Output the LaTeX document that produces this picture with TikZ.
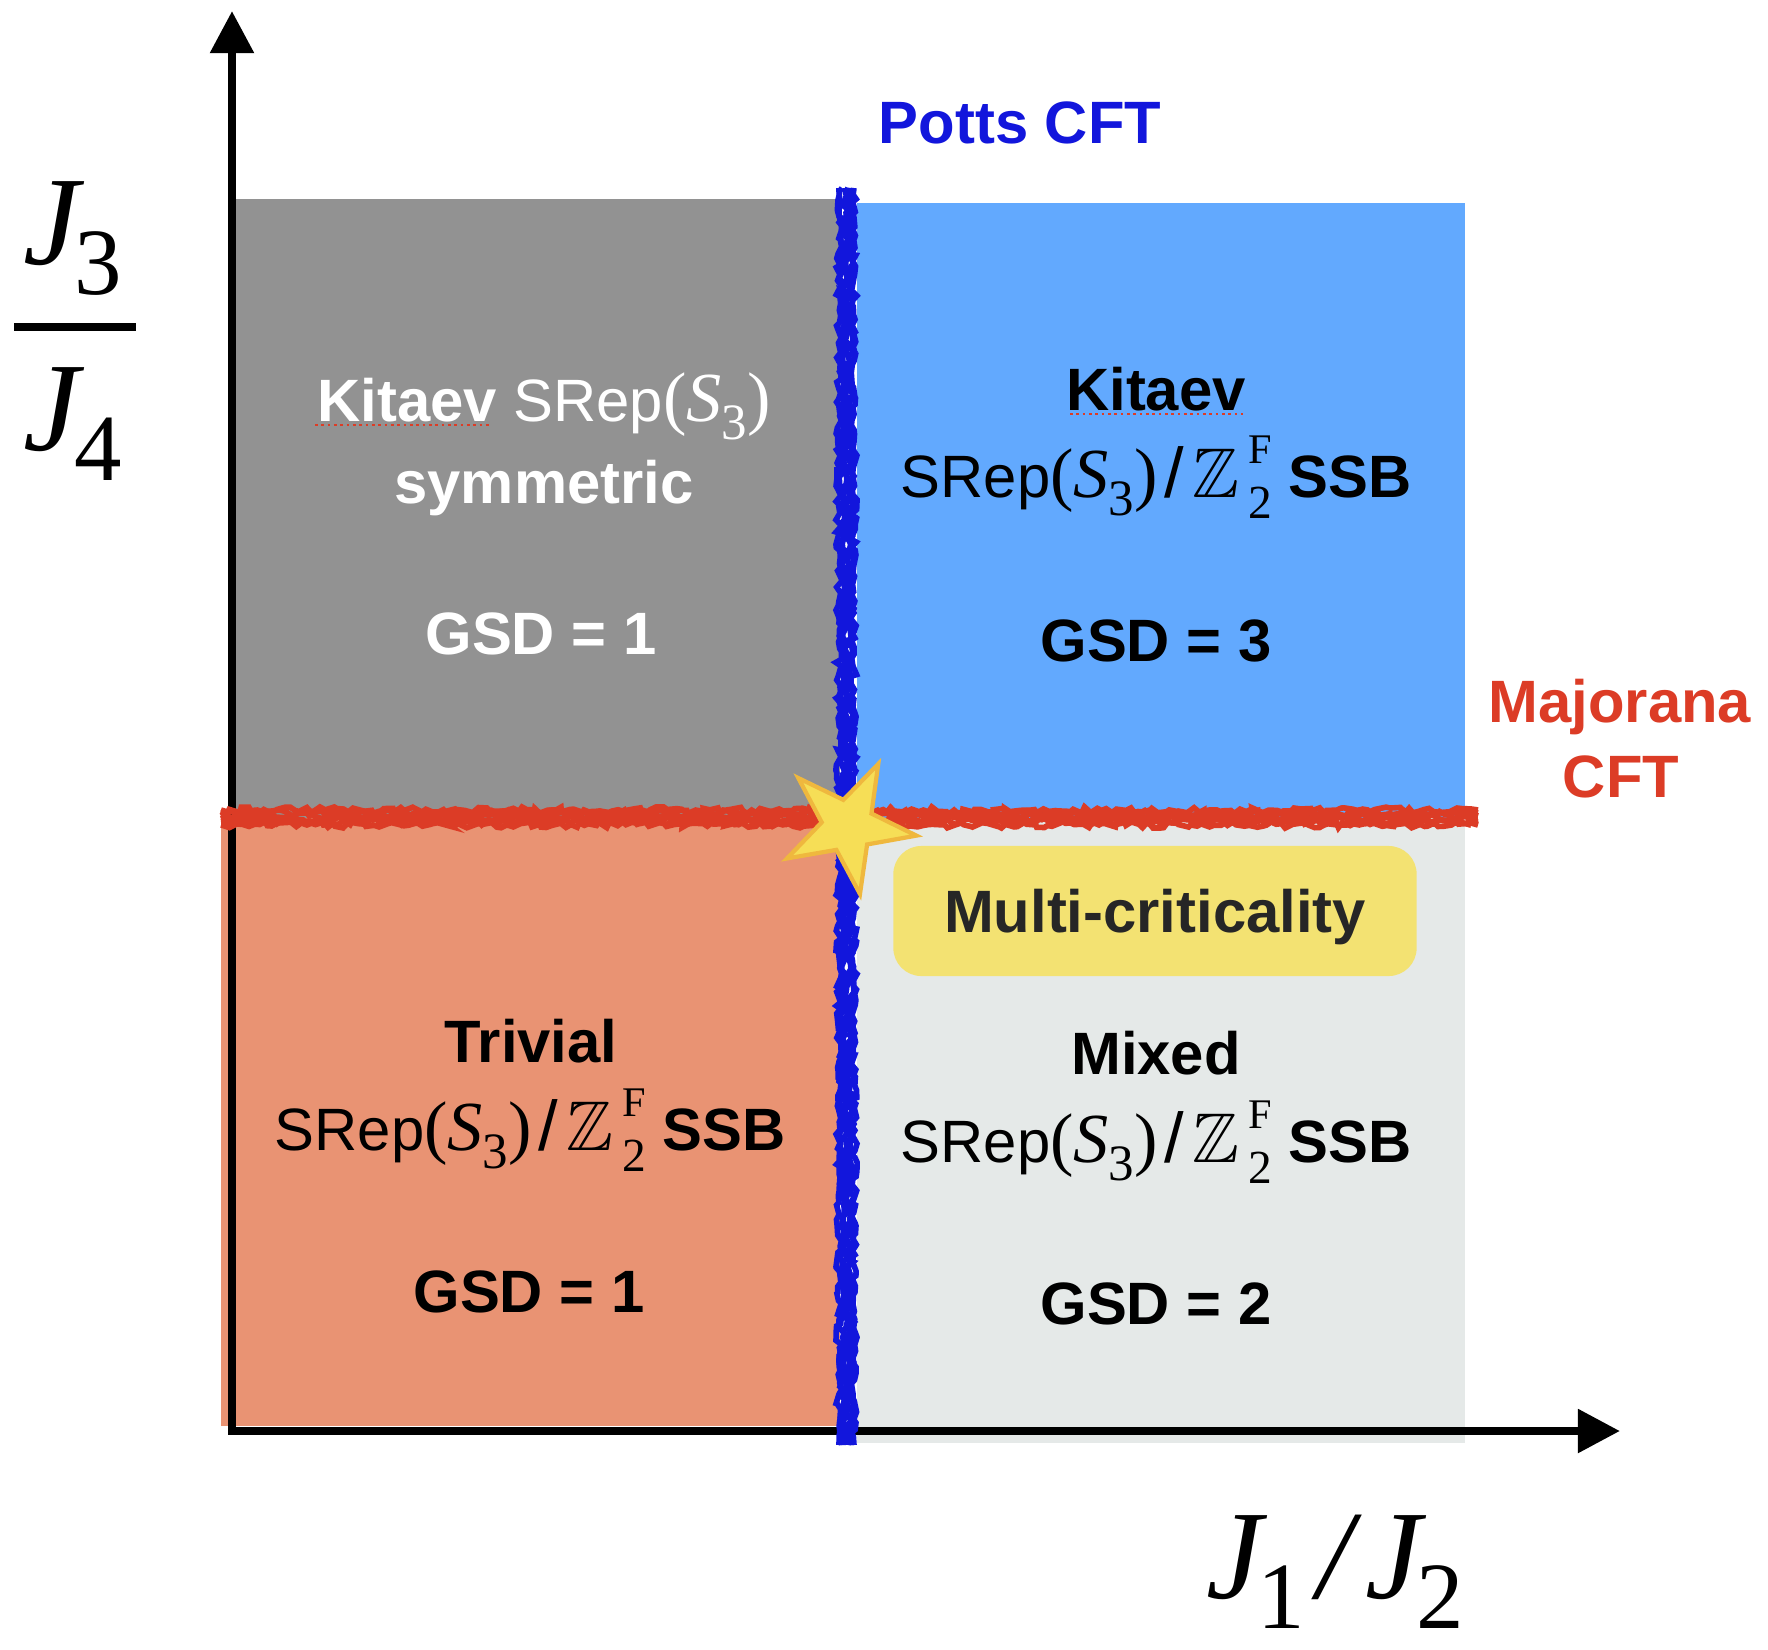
\documentclass[tikz,border=0pt]{standalone}
\usepackage{amsmath,amssymb}
\usepackage[no-math]{fontspec}
\setmainfont{Liberation Sans}
\newfontfamily\tms{Liberation Serif}
\usetikzlibrary{arrows.meta,shapes.geometric,decorations.pathmorphing}

\definecolor{phasegray}{RGB}{146,146,146}
\definecolor{phaseblue}{RGB}{98,169,254}
\definecolor{phasesalmon}{RGB}{233,147,115}
\definecolor{phaselight}{RGB}{229,233,232}
\definecolor{pottsblue}{RGB}{18,22,220}
\definecolor{majred}{RGB}{220,60,38}
\definecolor{mcyellow}{RGB}{243,226,114}
\definecolor{starfill}{RGB}{246,222,86}
\definecolor{stardraw}{RGB}{239,184,62}
\definecolor{mctext}{RGB}{38,38,38}

% S_3 and SRep(S_3)/Z_2^F in a Times-like face
\newcommand{\sthree}{(\textit{S}\raisebox{-0.26em}{\fontsize{14.5}{16}\selectfont 3})}
\newcommand{\zzf}{$\mathbb{Z}$\kern0.12em\rlap{\raisebox{-0.3em}{\fontsize{13.5}{15}\selectfont 2}}\raisebox{0.47em}{\fontsize{12}{14}\selectfont F}}
\newcommand{\srep}{SRep{\tms\fontsize{20}{24}\selectfont\sthree\kern0.1em{\rmfamily /}\kern0.12em\zzf} \textbf{SSB}}
% J_i for the axis labels
\newcommand{\jj}[1]{{\tms\itshape J}\kern-0.04em\raisebox{-0.24em}{\tms\fontsize{27}{30}\selectfont #1}}

\begin{document}
\begin{tikzpicture}[x=0.01cm,y=-0.01cm]
\fill[white] (0,0) rectangle (1768,1650);
\coordinate (O) at (232,1431);
\coordinate (ytip) at (232,11);
\coordinate (xtip) at (1620,1431);
\tikzstyle{every node}=[anchor=base, font=\fontsize{17}{20}\selectfont];
\tikzstyle{bftext}=[font=\fontsize{17}{20}\selectfont\bfseries];
\tikzstyle{biglabel}=[font=\fontsize{36}{40}\selectfont];
\tikzstyle{crayon}=[line width=1.6pt, decorate, decoration={random steps, segment length=1.5pt, amplitude=0.9pt}];
\tikzstyle{axisline}=[line width=2.4pt, {Triangle[length=0.42cm,width=0.42cm]}-{Triangle[length=0.42cm,width=0.42cm]}];
\pgfmathsetseed{11}
% phases
\fill[phasegray] (235,199) rectangle (840,818);
\fill[phaseblue] (857,203) rectangle (1465,818);
\fill[phasesalmon] (221,818) rectangle (840,1426);
\fill[phaselight] (857,818) rectangle (1465,1443);
% axes
\draw[axisline] (ytip) -- (O) -- (xtip);
% critical lines
\foreach \d in {-8,-5,...,8}
  \draw[crayon, pottsblue] (847+\d,188) -- (847+\d,1445);
\foreach \d in {-8,-5,...,8}
  \draw[crayon, majred] (221,818+\d) -- (1478,818+\d);
\node[star, star points=5, star point ratio=2.6, minimum size=1.38cm, inner sep=0pt, rotate=-26,
  fill=starfill, draw=stardraw, line width=1.2pt, anchor=center] (crit) at (848,826) {};
\node[bftext, anchor=center, fill=mcyellow, rounded corners=0.28cm, minimum width=5.23cm, minimum height=1.3cm,
  text height=0.43cm, text depth=0pt, text=mctext] (mc) at (1155,911) {Multi-criticality};
% phase labels
\node[text=white] (kitA) at (544,421) {\textbf{Kitaev} SRep{\tms\fontsize{20}{24}\selectfont\sthree}};
\node[bftext, text=white] (symA) at (544,503) {symmetric};
\node[bftext, text=white] (gsdA) at (541,654) {GSD = 1};
\node[bftext] (kitB) at (1156,410) {Kitaev};
\node (srepB) at (1156,497) {\srep};
\node[bftext] (gsdB) at (1156,661) {GSD = 3};
\node[bftext] (trivC) at (531,1062) {Trivial};
\node (srepC) at (530,1150) {\srep};
\node[bftext] (gsdC) at (529,1312) {GSD = 1};
\node[bftext] (mixD) at (1156,1074) {Mixed};
\node (srepD) at (1156,1162) {\srep};
\node[bftext] (gsdD) at (1156,1324) {GSD = 2};
\draw[majred, densely dotted, line width=0.8pt] (315,425) -- (489,425);
\draw[majred, densely dotted, line width=0.8pt] (1070,414) -- (1243,414);
% transitions
\node[bftext, text=pottsblue] (potts) at (1020,143) {Potts CFT};
\node[bftext, text=majred] (major) at (1620,722) {Majorana};
\node[bftext, text=majred] (cft) at (1621,797) {CFT};
% axis labels
\node[biglabel] (j3) at (73,264) {\jj{3}};
\node[biglabel] (j4) at (73,450) {\jj{4}};
\draw[line width=2.3pt] (14,327) -- (136,327);
\node[biglabel] (xl) at (1335,1598) {\jj{1}\kern0.1em{\tms\itshape /}\kern0.1em\jj{2}};
\end{tikzpicture}
\end{document}
